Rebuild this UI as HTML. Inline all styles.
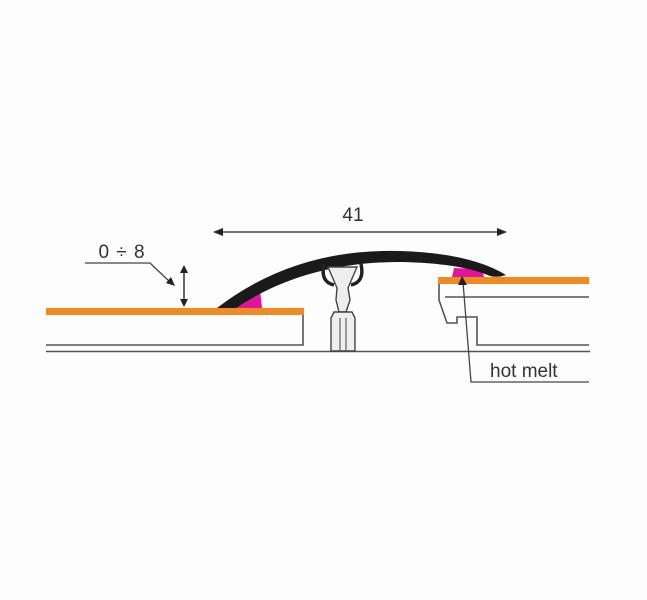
<!DOCTYPE html>
<html><head><style>html,body{margin:0;padding:0;background:#fff;}svg{display:block}</style></head>
<body>
<svg width="647" height="600" viewBox="0 0 647 600" xmlns="http://www.w3.org/2000/svg" font-family="Liberation Sans, sans-serif">
<rect width="647" height="600" fill="#fdfdfd"/>
<line x1="46" y1="351.5" x2="590" y2="351.5" stroke="#555" stroke-width="1.6"/>
<polyline points="46,345 303,345 303,315" fill="none" stroke="#555" stroke-width="1.6"/>
<path d="M228,308 L262,308 L260,290 Q245,294 228,308Z" fill="#e0169a"/>
<rect x="46" y="308" width="258" height="7" fill="#f28a22"/>
<path d="M589,297 L445,297" stroke="#555" stroke-width="1.6" fill="none"/>
<path d="M439,284 L439,300 L447,323 L457,323 L457,317 L477,317 L477,345 L589,345" stroke="#555" stroke-width="1.6" fill="none"/>
<path d="M452,277 L484,277 L482,269 L454,268Z" fill="#e0169a"/>
<rect x="438" y="277" width="151" height="7" fill="#f28a22"/>
<path d="M217,308 Q295,248 400,251 Q470,253 506,275 Q498,278 490,276 Q460,263 400,262 Q305,262 236,308 Z" fill="#1a1a1a"/>
<path d="M324,264 Q320,282 334,285 M361,264 Q365,282 351,285" stroke="#222" stroke-width="3.5" fill="none"/>
<path d="M328,267 L357,267 L348,288 L350,300 L346,312 L339,312 L336,300 L337,288 Z" fill="#eee" stroke="#444" stroke-width="1.4"/>
<path d="M334,312 L352,312 L355,318 L355,351 L331,351 L331,318 Z" fill="#eee" stroke="#444" stroke-width="1.4"/>
<line x1="340" y1="318" x2="340" y2="351" stroke="#444" stroke-width="1"/>
<line x1="346" y1="318" x2="346" y2="351" stroke="#444" stroke-width="1"/>
<line x1="218" y1="232" x2="500" y2="232" stroke="#444" stroke-width="1.5"/>
<path d="M213,232 L223,228 L223,236Z M507,232 L497,228 L497,236Z" fill="#222"/>
<text x="353" y="221" font-size="19" text-anchor="middle" fill="#333">41</text>
<line x1="184" y1="270" x2="184" y2="302" stroke="#333" stroke-width="1.5"/>
<path d="M184,265 L180,273 L188,273Z M184,307 L180,299 L188,299Z" fill="#222"/>
<text x="122" y="258" font-size="19" text-anchor="middle" fill="#333" letter-spacing="1">0 ÷ 8</text>
<polyline points="85,263 150,263 170,282" fill="none" stroke="#444" stroke-width="1.3"/>
<path d="M175,286 L166,283 L171,277Z" fill="#222"/>
<polyline points="463,282 471,382 589,382" fill="none" stroke="#444" stroke-width="1.3"/>
<path d="M462,276 L458,285 L467,285Z" fill="#222"/>
<text x="490" y="377" font-size="19" fill="#333">hot melt</text>
</svg>
</body></html>
